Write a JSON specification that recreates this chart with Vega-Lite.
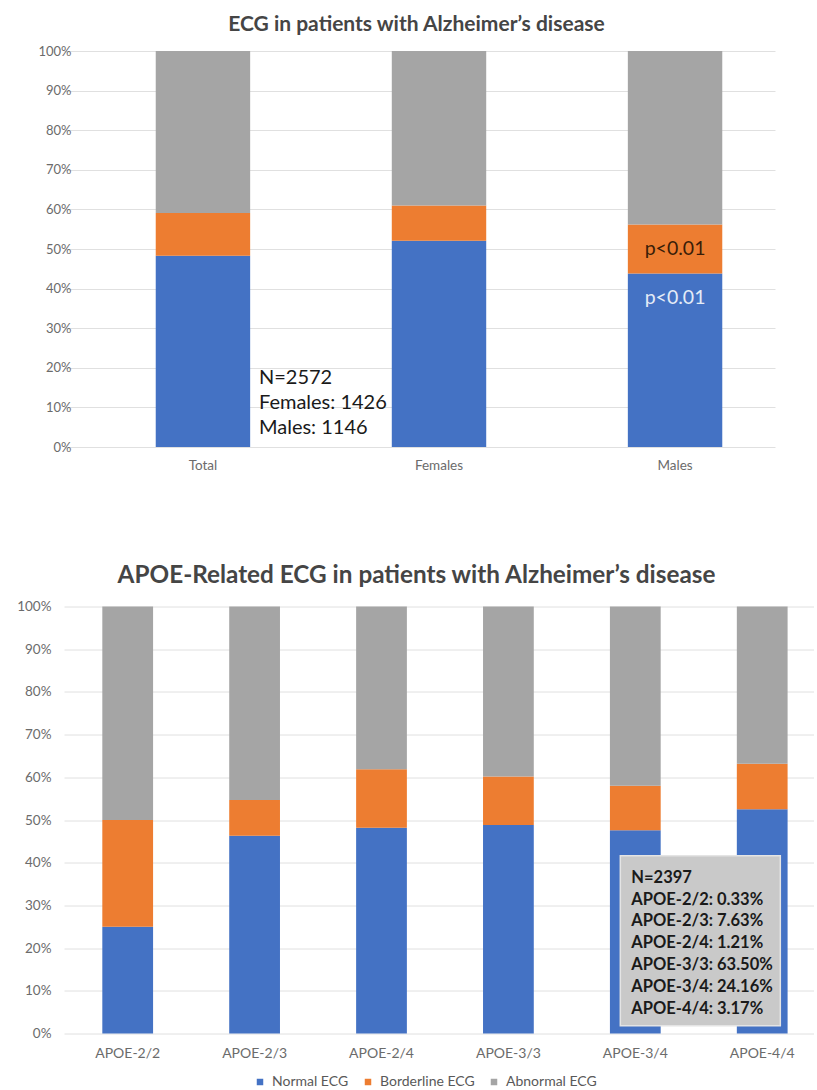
{
  "$schema": "https://vega.github.io/schema/vega-lite/v6.json",
  "background": "white",
  "padding": {"left": 16, "top": 13, "right": 0, "bottom": 0},
  "config": {
    "font": "Lato",
    "view": {"stroke": null},
    "axis": {"domain": false, "ticks": false, "labelColor": "#6b6b6b", "gridColor": "#e0e0e0", "title": null, "labelOverlap": false},
    "legend": {"orient": "none", "legendX": 189, "legendY": 1024, "direction": "horizontal", "title": null, "padding": 0, "symbolType": "square", "symbolSize": 42, "symbolStrokeWidth": 0, "labelFontSize": 14, "labelColor": "#595959", "columnPadding": 12, "labelOffset": 5}
  },
  "datasets": {
    "sex": [
      {"group": "Total", "ecg": "Normal ECG", "pct": 48.3},
      {"group": "Total", "ecg": "Borderline ECG", "pct": 10.8},
      {"group": "Total", "ecg": "Abnormal ECG", "pct": 40.9},
      {"group": "Females", "ecg": "Normal ECG", "pct": 52.1},
      {"group": "Females", "ecg": "Borderline ECG", "pct": 8.9},
      {"group": "Females", "ecg": "Abnormal ECG", "pct": 39.0},
      {"group": "Males", "ecg": "Normal ECG", "pct": 43.8},
      {"group": "Males", "ecg": "Borderline ECG", "pct": 12.4},
      {"group": "Males", "ecg": "Abnormal ECG", "pct": 43.8}
    ],
    "apoe": [
      {"genotype": "APOE-2/2", "ecg": "Normal ECG", "pct": 25.0},
      {"genotype": "APOE-2/2", "ecg": "Borderline ECG", "pct": 25.0},
      {"genotype": "APOE-2/2", "ecg": "Abnormal ECG", "pct": 50.0},
      {"genotype": "APOE-2/3", "ecg": "Normal ECG", "pct": 46.3},
      {"genotype": "APOE-2/3", "ecg": "Borderline ECG", "pct": 8.4},
      {"genotype": "APOE-2/3", "ecg": "Abnormal ECG", "pct": 45.3},
      {"genotype": "APOE-2/4", "ecg": "Normal ECG", "pct": 48.2},
      {"genotype": "APOE-2/4", "ecg": "Borderline ECG", "pct": 13.7},
      {"genotype": "APOE-2/4", "ecg": "Abnormal ECG", "pct": 38.1},
      {"genotype": "APOE-3/3", "ecg": "Normal ECG", "pct": 48.8},
      {"genotype": "APOE-3/3", "ecg": "Borderline ECG", "pct": 11.4},
      {"genotype": "APOE-3/3", "ecg": "Abnormal ECG", "pct": 39.8},
      {"genotype": "APOE-3/4", "ecg": "Normal ECG", "pct": 47.6},
      {"genotype": "APOE-3/4", "ecg": "Borderline ECG", "pct": 10.4},
      {"genotype": "APOE-3/4", "ecg": "Abnormal ECG", "pct": 42.0},
      {"genotype": "APOE-4/4", "ecg": "Normal ECG", "pct": 52.5},
      {"genotype": "APOE-4/4", "ecg": "Borderline ECG", "pct": 10.7},
      {"genotype": "APOE-4/4", "ecg": "Abnormal ECG", "pct": 36.8}
    ]
  },
  "vconcat": [
    {
      "title": {"text": "ECG in patients with Alzheimer’s disease", "fontSize": 21, "fontWeight": "bold", "color": "#454545", "offset": 10.5, "dx": -3},
      "width": 711,
      "height": 396,
      "resolve": {"axis": {"y": "independent"}},
      "layer": [
        {
          "data": {"name": "sex"},
          "mark": {"type": "bar"},
          "encoding": {
            "x": {"field": "group", "type": "nominal", "sort": ["Total", "Females", "Males"], "scale": {"paddingInner": 0.6, "paddingOuter": 0.306, "align": 0.635}, "axis": {"labelAngle": 0, "labelFontSize": 13.5, "labelPadding": 11, "grid": false}},
            "y": {"field": "pct", "type": "quantitative", "stack": "normalize", "scale": {"domain": [0, 1]}, "axis": {"values": [0, 0.1, 0.2, 0.3, 0.4, 0.5, 0.6, 0.7, 0.8, 0.9, 1], "format": ".0%", "labelFontSize": 13, "labelPadding": 14, "offset": -21}},
            "color": {"field": "ecg", "type": "nominal", "scale": {"domain": ["Normal ECG", "Borderline ECG", "Abnormal ECG"], "range": ["#4472C4", "#ED7D31", "#A5A5A5"]}},
            "order": {"field": "ecg", "sort": "descending"}
          }
        },
        {
          "data": {"values": [{}]},
          "mark": {"type": "text", "align": "left", "baseline": "middle", "fontSize": 20, "lineHeight": 25, "color": "#1a1a1a", "dx": 56},
          "encoding": {
            "x": {"datum": "Total"},
            "y": {"datum": 0.174, "axis": null},
            "text": {"value": ["N=2572", "Females: 1426", "Males: 1146"]}
          }
        },
        {
          "data": {"values": [{}]},
          "mark": {"type": "text", "align": "center", "baseline": "middle", "fontSize": 19.5, "color": "#3a1d08"},
          "encoding": {
            "x": {"datum": "Males"},
            "y": {"datum": 0.5, "axis": null},
            "text": {"value": "p<0.01"}
          }
        },
        {
          "data": {"values": [{}]},
          "mark": {"type": "text", "align": "center", "baseline": "middle", "fontSize": 19.5, "color": "#e4ecf7"},
          "encoding": {
            "x": {"datum": "Males"},
            "y": {"datum": 0.376, "axis": null},
            "text": {"value": "p<0.01"}
          }
        }
      ]
    },
    {
      "title": {"text": "APOE-Related ECG in patients with Alzheimer’s disease", "fontSize": 24.3, "fontWeight": "bold", "color": "#454545", "offset": 11, "dx": -22.5},
      "width": 750,
      "height": 427,
      "resolve": {"axis": {"y": "independent"}},
      "layer": [
        {
          "data": {"name": "apoe"},
          "mark": {"type": "bar"},
          "encoding": {
            "x": {"field": "genotype", "type": "nominal", "sort": ["APOE-2/2", "APOE-2/3", "APOE-2/4", "APOE-3/3", "APOE-3/4", "APOE-4/4"], "scale": {"paddingInner": 0.6, "paddingOuter": 0.255, "align": 0.592}, "axis": {"labelAngle": 0, "labelFontSize": 14, "labelPadding": 13, "grid": false}},
            "y": {"field": "pct", "type": "quantitative", "stack": "normalize", "scale": {"domain": [0, 1]}, "axis": {"values": [0, 0.1, 0.2, 0.3, 0.4, 0.5, 0.6, 0.7, 0.8, 0.9, 1], "format": ".0%", "labelFontSize": 13.5, "labelPadding": 13}},
            "color": {"field": "ecg", "type": "nominal", "scale": {"domain": ["Normal ECG", "Borderline ECG", "Abnormal ECG"], "range": ["#4472C4", "#ED7D31", "#A5A5A5"]}},
            "order": {"field": "ecg", "sort": "descending"}
          }
        },
        {
          "data": {"values": [{}]},
          "mark": {"type": "point", "filled": true, "opacity": 1, "shape": "M-1,-1.0625H1V1.0625H-1Z", "size": 25600, "color": "#c9c9c9", "stroke": "#e4e4e4", "strokeWidth": 1.5, "xOffset": 65},
          "encoding": {
            "x": {"datum": "APOE-3/4"},
            "y": {"datum": 0.217, "axis": null}
          }
        },
        {
          "data": {"values": [{}]},
          "mark": {"type": "text", "align": "left", "baseline": "middle", "fontSize": 16.5, "fontWeight": "bold", "lineHeight": 21.9, "color": "#1a1a1a", "dx": -4},
          "encoding": {
            "x": {"datum": "APOE-3/4"},
            "y": {"datum": 0.365, "axis": null},
            "text": {"value": ["N=2397", "APOE-2/2: 0.33%", "APOE-2/3: 7.63%", "APOE-2/4: 1.21%", "APOE-3/3: 63.50%", "APOE-3/4: 24.16%", "APOE-4/4: 3.17%"]}
          }
        }
      ]
    }
  ],
  "spacing": 91.5,
  "resolve": {"scale": {"color": "shared"}}
}
